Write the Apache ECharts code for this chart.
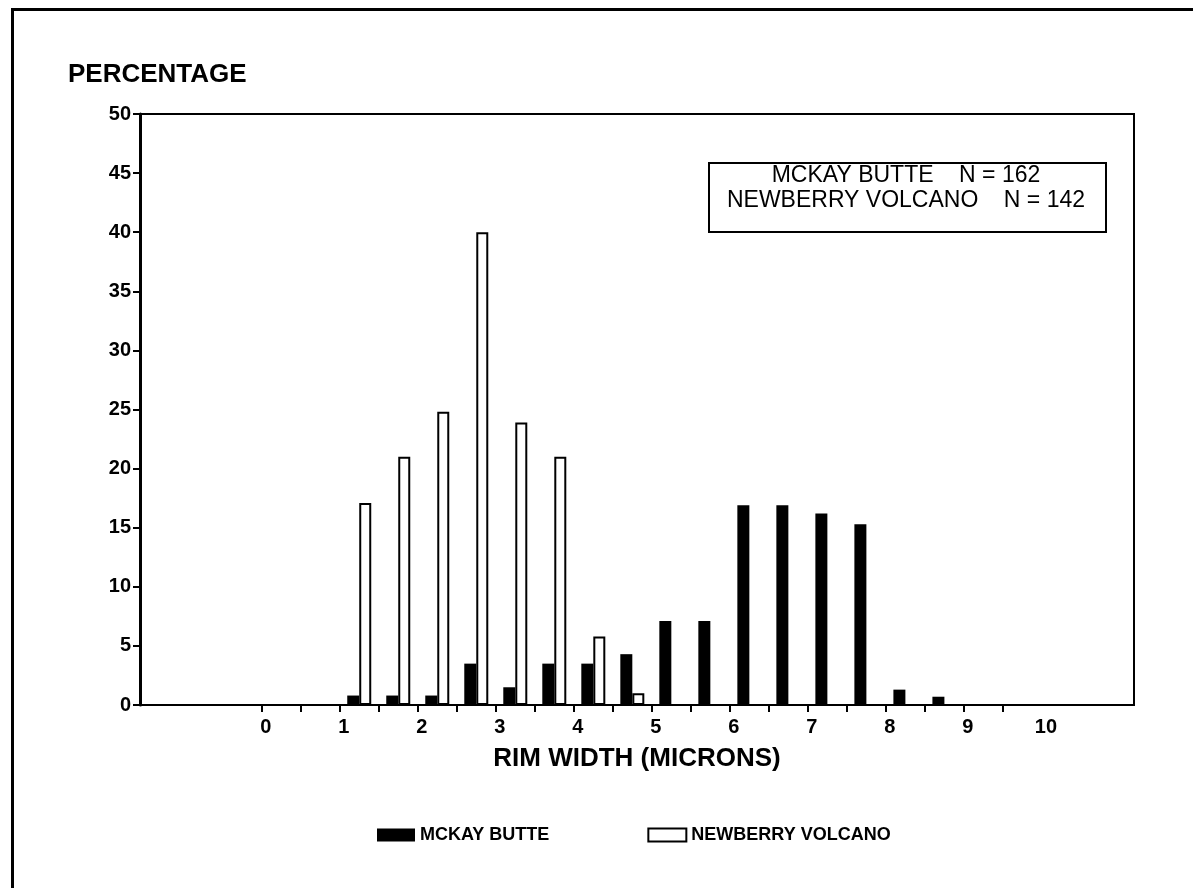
<!DOCTYPE html>
<html>
<head>
<meta charset="utf-8">
<script src="https://cdn.jsdelivr.net/npm/echarts@6/dist/echarts.min.js"></script>
<style>
html,body{margin:0;padding:0;background:#fff;}
#chart{width:1193px;height:888px;}
</style>
</head>
<body>
<div id="chart"></div>
<script>
// Bin centres (rim width, microns) – each bin is 0.5 micron wide
const binCenters = [1.25, 1.75, 2.25, 2.75, 3.25, 3.75, 4.25, 4.75, 5.25, 5.75, 6.25, 6.75, 7.25, 7.75, 8.25, 8.75];
// Percentages
const mckayButte = [0.8, 0.8, 0.8, 3.5, 1.5, 3.5, 3.5, 4.3, 7.1, 7.1, 16.9, 16.9, 16.2, 15.3, 1.3, 0.7];
const newberryVolcano = [17.1, 21.0, 24.8, 40.0, 23.9, 21.0, 5.8, 1.0, null, null, null, null, null, null, null, null];
// Axis ticks / labels
const xTickValues = [0, 0.5, 1, 1.5, 2, 2.5, 3, 3.5, 4, 4.5, 5, 5.5, 6, 6.5, 7, 7.5, 8, 8.5, 9, 9.5];
const xLabelValues = [0, 1, 2, 3, 4, 5, 6, 7, 8, 9, 10];
const seriesNames = ['MCKAY BUTTE', 'NEWBERRY VOLCANO'];
const statLines = ['MCKAY BUTTE    N = 162', 'NEWBERRY VOLCANO    N = 142'];

const FONT = '"Liberation Sans", Arial, Helvetica, sans-serif';

const toPairs = (vals) => binCenters.map((x, i) => vals[i] == null ? null : [x, vals[i]]).filter(d => d);

const chart = echarts.init(document.getElementById('chart'), null, {renderer: 'canvas'});
chart.setOption({
  backgroundColor: '#fff',
  animation: false,
  textStyle: {fontFamily: FONT, color: '#000'},
  title: {
    text: 'PERCENTAGE',
    left: 63, top: 57,
    textStyle: {fontFamily: FONT, fontSize: 26, fontWeight: 'bold', color: '#000'}
  },
  graphic: [
    {type: 'rect', left: 10, top: 7, shape: {width: 1300, height: 1000},
     style: {fill: 'none', stroke: '#000', lineWidth: 3}, silent: true, z: 100},
    {type: 'rect', left: 708, top: 162, shape: {width: 397, height: 69},
     style: {fill: '#fff', stroke: '#000', lineWidth: 2}, z: 100},
    {type: 'text', z: 101, x: 906, y: 163,
     style: {text: statLines.join('\n'), align: 'center', verticalAlign: 'top',
       font: '23px ' + FONT, lineHeight: 25, fill: '#000'}}
  ],
  legend: {
    left: 372, top: 821,
    itemWidth: 38, itemHeight: 13, itemGap: 98,
    icon: 'rect',
    textStyle: {fontFamily: FONT, fontSize: 18, fontWeight: 'bold', color: '#000', padding: [2, 0, 0, 0]},
    data: seriesNames
  },
  grid: {
    left: 140, right: 59, top: 114, bottom: 183,
    show: true, borderColor: '#000', borderWidth: 2, backgroundColor: 'transparent'
  },
  xAxis: {
    type: 'value',
    min: -1.56, max: 11.18,
    name: 'RIM WIDTH (MICRONS)',
    nameLocation: 'middle', nameGap: 41,
    nameTextStyle: {fontFamily: FONT, fontSize: 26, fontWeight: 'bold', color: '#000'},
    axisLine: {show: true, onZero: false, lineStyle: {color: '#000', width: 2}},
    axisTick: {show: true, inside: false, length: 7, customValues: xTickValues, lineStyle: {color: '#000', width: 2}},
    axisLabel: {
      customValues: xLabelValues, margin: 12, padding: [0, 0, 0, 8],
      fontFamily: FONT, fontSize: 20, fontWeight: 'bold', color: '#000'
    },
    splitLine: {show: false}
  },
  yAxis: {
    type: 'value',
    min: 0, max: 50, interval: 5,
    axisLine: {show: true, onZero: false, lineStyle: {color: '#000', width: 3}},
    axisTick: {show: true, inside: false, length: 7, lineStyle: {color: '#000', width: 2}},
    axisLabel: {margin: 9, fontFamily: FONT, fontSize: 20, fontWeight: 'bold', color: '#000'},
    splitLine: {show: false}
  },
  series: [
    {
      name: seriesNames[0], type: 'bar',
      data: toPairs(mckayButte),
      barWidth: 12, barGap: '0%',
      itemStyle: {color: '#000', borderColor: '#000', borderWidth: 0}
    },
    {
      name: seriesNames[1], type: 'bar',
      data: toPairs(newberryVolcano),
      barWidth: 12, barGap: '0%',
      itemStyle: {color: '#fff', borderColor: '#000', borderWidth: 2}
    }
  ]
});
</script>
</body>
</html>
